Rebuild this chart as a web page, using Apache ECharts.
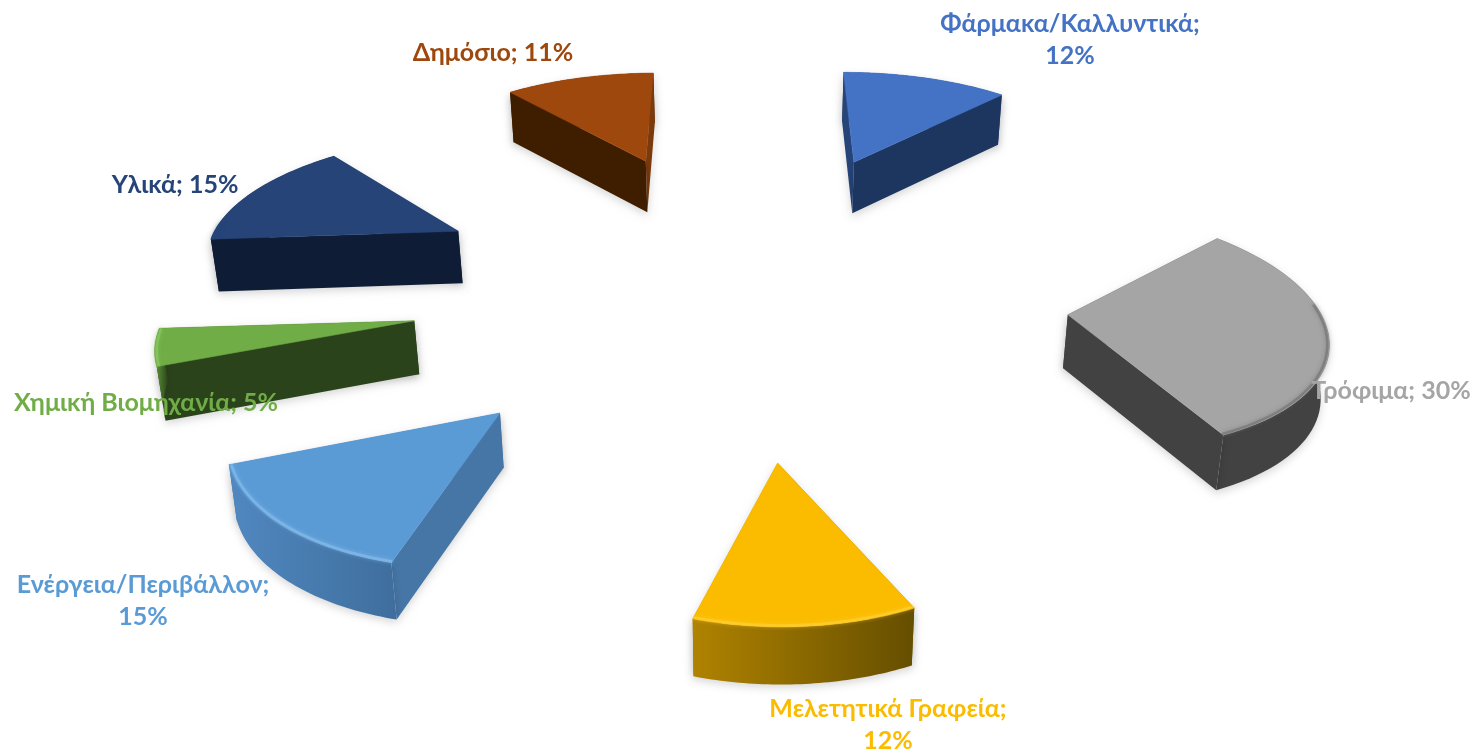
<!DOCTYPE html>
<html><head><meta charset="utf-8"><style>html,body{margin:0;background:#fff}#c{width:1478px;height:755px}</style>
<script src="https://cdn.jsdelivr.net/npm/echarts@6/dist/echarts.min.js"></script></head>
<body><div id="c"></div><script>
const categories=['Φάρμακα/Καλλυντικά','Τρόφιμα','Μελετητικά Γραφεία','Ενέργεια/Περιβάλλον','Χημική Βιομηχανία','Υλικά','Δημόσιο'];
const values=[12,30,12,15,5,15,11];
const wrapLabel=[true,false,true,true,false,false,false];
const topColors=['#4472c4','#a5a5a5','#fbbc00','#5b9bd5','#70ad47','#264478','#9e480e'];
const labelColors=['#4472c4','#a5a5a5','#fbbc00','#5b9bd5','#70ad47','#264478','#9e480e'];
const startWall=['#264478','#424242','#6b5200','#4576a6','#2b431b','#0e1c36','#3f1e00'];
const endWall=['#1d3660','#424242','#a87e00','#4576a6','#2b431b','#0e1c36','#7a3a0c'];
const arcFrom=['#264478','#424242','#b08300','#5088c0','#5f9a3a','#0e1c36','#3f1e00'];
const arcTo=['#264478','#424242','#654e00','#3f6e9d','#2b431b','#0e1c36','#3f1e00'];
const bevel=['#5b87d6','#707070','#ffd23c','#8cc0ee','#8fcb66','#264478','#9e480e'];
const turnDeg=[0,3.6,2.6,0.5,0,-0.7,-0.5];
const explode=[1,0.965,1,1,1,1,1];
const radial=[1,0.99,1.01,1.015,0.98,0.975,0.98];
const labelAt=[[1070,40],[1391,391],[888,725],[143,601],[146,403],[175,185],[493,53]];
const labelFont='Lato, "Open Sans"';
const view={cx:746.7,cy:286.6,sx:330,sy:151.7,k:0.1435,r:0.77,rTilt:0.1,depth:53,shrink:0.985};
const total=values.reduce((a,b)=>a+b,0);
function proj(X,Y){const w=1+view.k*Y;return [view.cx+view.sx*X/w,view.cy-view.sy*Y/w];}
function drop(X,Y){const p=proj(X,Y),w=1+view.k*Y;return [view.cx+(p[0]-view.cx)*view.shrink,p[1]+view.depth/Math.pow(w,0.3)];}
function renderItem(params,api){
  const i=params.dataIndex,v=api.value(0);
  let before=0;for(let j=0;j<i;j++)before+=values[j];
  const turn=turnDeg[i]*Math.PI/180;
  const a0=before/total*2*Math.PI+turn,a1=(before+v)/total*2*Math.PI+turn,m=(a0+a1)/2;
  const Cx=explode[i]*Math.sin(m),Cy=explode[i]*Math.cos(m);
  const R=view.r*(1+view.rTilt*Cy)*radial[i];
  const pts=[];const n=48;
  for(let s=0;s<=n;s++){const a=a0+(a1-a0)*s/n;pts.push([Cx+R*Math.sin(a),Cy+R*Math.cos(a),a]);}
  const t=pts.map(p=>proj(p[0],p[1])),b=pts.map(p=>drop(p[0],p[1]));
  const ap=proj(Cx,Cy),ab=drop(Cx,Cy);
  const shadow={shadowBlur:8,shadowColor:'rgba(0,0,0,0.16)',shadowOffsetY:3};
  const poly=(points,fill)=>({type:'polygon',shape:{points},style:Object.assign({fill,stroke:null},shadow)});
  const walls=[
    Object.assign(poly([ap,t[0],b[0],ab],startWall[i]),{depthKey:(Cy+pts[0][1])/2}),
    Object.assign(poly([ap,t[n],b[n],ab],endWall[i]),{depthKey:(Cy+pts[n][1])/2}),
    Object.assign(poly(t.concat(b.slice().reverse()),new echarts.graphic.LinearGradient(0,0,1,0,[{offset:0,color:arcFrom[i]},{offset:1,color:arcTo[i]}])),{depthKey:pts[n>>1][1]})
  ].sort((p,q)=>q.depthKey-p.depthKey);
  const top={type:'polygon',shape:{points:[ap].concat(t)},style:{fill:topColors[i],stroke:topColors[i],lineWidth:0.6}};
  const front=pts.filter(p=>Math.cos(p[2])<0.1).map(p=>proj(Cx+(p[0]-Cx)*0.992,Cy+(p[1]-Cy)*0.992));
  const kids=walls.concat([top]);
  if(front.length>1)kids.push({type:'polyline',shape:{points:front},style:{fill:null,stroke:bevel[i],lineWidth:2.5,opacity:0.6,shadowBlur:4,shadowColor:bevel[i]}});
  return {type:'group',children:kids};
}
const chart=echarts.init(document.getElementById('c'),null,{renderer:'canvas'});
chart.setOption({
  animation:false,backgroundColor:'#fff',
  series:[{type:'custom',coordinateSystem:'none',renderItem,silent:true,data:values.map((v,i)=>({name:categories[i],value:[v]}))}],
  graphic:categories.map((c,i)=>({type:'text',z:100,x:labelAt[i][0],y:labelAt[i][1],
    style:{text:c+';'+(wrapLabel[i]?'\n':' ')+values[i]+'%',fill:labelColors[i],font:'700 25px '+labelFont,align:'center',verticalAlign:'middle',lineHeight:32}}))
});
</script></body></html>
